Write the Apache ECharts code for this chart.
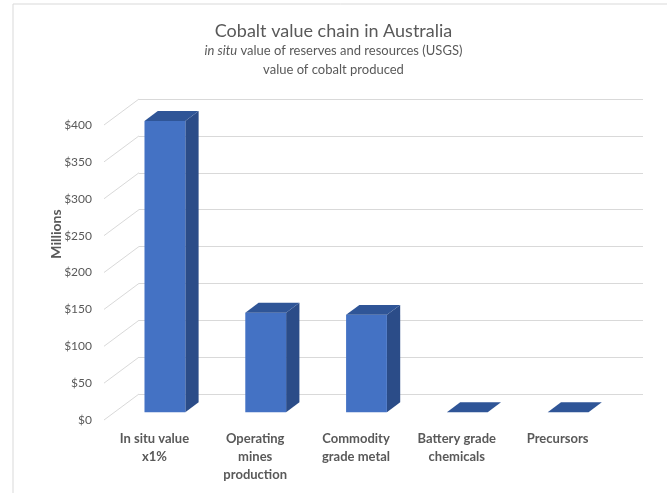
<!DOCTYPE html>
<html>
<head>
<meta charset="utf-8">
<script src="https://cdn.jsdelivr.net/npm/echarts@6/dist/echarts.min.js"></script>
<style>
  html, body { margin: 0; padding: 0; background: #ffffff; }
  #chart { width: 667px; height: 493px; }
</style>
</head>
<body>
<div id="chart"></div>
<script>
// Cobalt value chain in Australia (US$ millions)
const categories = [
  'In situ value\nx1%',
  'Operating\nmines\nproduction',
  'Commodity\ngrade metal',
  'Battery grade\nchemicals',
  'Precursors'
];
const values = [395, 135, 132, 0, 0];
const yTicks = [0, 50, 100, 150, 200, 250, 300, 350, 400];

const TEXT = '#595959';
const GRID_LINE = '#d9d9d9';
const FONT = 'Lato, "Open Sans", sans-serif';

// oblique depth of the floor (front edge -> back wall), in pixels
const DEPTH_X = 35, DEPTH_Y = -26;
// bars sit between these fractions of the floor depth
const BAR_FRONT = 0.30, BAR_BACK = 0.68;
const BAR_WIDTH = 0.405;

const chart = echarts.init(document.getElementById('chart'), null, { renderer: 'canvas' });

const gridFront = { left: 104, top: 125, width: 504, height: 295 };
const gridBack = {
  left: gridFront.left + DEPTH_X,
  top: gridFront.top + DEPTH_Y,
  width: gridFront.width,
  height: gridFront.height
};

// left wall: oblique grid lines running from the value labels back to the wall
function wallDiagonal(params, api) {
  const p = api.coord([0, api.value(1)]);
  const half = api.size([1, 0])[0] / 2;
  const x0 = p[0] - half;
  return {
    type: 'line',
    shape: { x1: x0, y1: p[1], x2: x0 + DEPTH_X, y2: p[1] + DEPTH_Y },
    style: { stroke: GRID_LINE, lineWidth: 1 }
  };
}

// a box-shaped column: front face, right side and top
function bar3d(params, api) {
  const i = api.value(0);
  const v = api.value(1);
  const base = api.coord([i, 0]);
  const top = api.coord([i, v]);
  const w = api.size([1, 0])[0] * BAR_WIDTH;
  const fx = DEPTH_X * BAR_FRONT, fy = DEPTH_Y * BAR_FRONT;
  const dx = DEPTH_X * (BAR_BACK - BAR_FRONT), dy = DEPTH_Y * (BAR_BACK - BAR_FRONT);
  const xl = base[0] - w / 2 + fx;
  const xr = xl + w;
  const yb = base[1] + fy;
  const yt = top[1] + fy;
  const children = [];
  if (yb - yt > 0.5) {
    children.push({
      type: 'polygon',
      shape: { points: [[xr, yt], [xr + dx, yt + dy], [xr + dx, yb + dy], [xr, yb]] },
      style: { fill: '#2B4C88' }
    });
    children.push({
      type: 'rect',
      shape: { x: xl, y: yt, width: w, height: yb - yt },
      style: { fill: '#4472C4' }
    });
  }
  children.push({
    type: 'polygon',
    shape: { points: [[xl, yt], [xr, yt], [xr + dx, yt + dy], [xl + dx, yt + dy]] },
    style: { fill: '#2F5597' }
  });
  return { type: 'group', children: children };
}

chart.setOption({
  backgroundColor: '#ffffff',
  animation: false,
  textStyle: { fontFamily: FONT },
  title: [
    {
      text: 'Cobalt value chain in Australia',
      left: 'center', top: 22, padding: 0,
      textStyle: { fontFamily: FONT, fontSize: 18, fontWeight: 'normal', color: TEXT }
    },
    {
      text: '{i|in situ}{s| value of reserves and resources (USGS)}',
      left: 'center', top: 44, padding: 0,
      textStyle: {
        fontWeight: 'normal',
        rich: {
          i: { fontFamily: FONT, fontSize: 13, fontStyle: 'italic', fontWeight: 'normal', color: TEXT },
          s: { fontFamily: FONT, fontSize: 13, fontWeight: 'normal', color: TEXT }
        }
      }
    },
    {
      text: 'value of cobalt produced',
      left: 'center', top: 63, padding: 0,
      textStyle: { fontFamily: FONT, fontSize: 13, fontWeight: 'normal', color: TEXT }
    }
  ],
  graphic: [
    {
      type: 'rect', silent: true, z: -10,
      shape: { x: 13, y: 4, width: 700, height: 600 },
      style: { fill: 'none', stroke: GRID_LINE, lineWidth: 1 }
    },
    {
      type: 'text', x: 56, y: 234, rotation: Math.PI / 2,
      style: {
        text: 'Millions', fill: TEXT,
        font: 'bold 14px ' + FONT,
        textAlign: 'center', textVerticalAlign: 'middle'
      }
    }
  ],
  grid: [
    Object.assign({ containLabel: false }, gridFront),
    Object.assign({ containLabel: false }, gridBack)
  ],
  xAxis: [
    {
      type: 'category', gridIndex: 0, data: categories,
      axisLine: { show: false }, axisTick: { show: false },
      axisLabel: {
        interval: 0, margin: 10, color: TEXT, fontFamily: FONT,
        fontSize: 13, fontWeight: 'bold', lineHeight: 18
      }
    },
    {
      type: 'category', gridIndex: 1, data: categories,
      axisLine: { show: false }, axisTick: { show: false }, axisLabel: { show: false }
    }
  ],
  yAxis: [
    {
      type: 'value', gridIndex: 0, min: 0, max: 400, interval: 50,
      axisLine: { show: false }, axisTick: { show: false },
      splitLine: { show: false },
      axisLabel: {
        margin: 12, color: TEXT, fontFamily: FONT, fontSize: 12,
        formatter: v => '$' + v
      }
    },
    {
      type: 'value', gridIndex: 1, min: 0, max: 400, interval: 50,
      axisLine: { show: false }, axisTick: { show: false },
      axisLabel: { show: false },
      splitLine: { show: true, lineStyle: { color: GRID_LINE, width: 1 } }
    }
  ],
  series: [
    {
      type: 'custom', xAxisIndex: 0, yAxisIndex: 0, z: 1,
      renderItem: wallDiagonal,
      data: yTicks.map(t => [0, t]),
      silent: true
    },
    {
      type: 'custom', xAxisIndex: 0, yAxisIndex: 0, z: 5,
      renderItem: bar3d,
      data: values.map((v, i) => [i, v]),
      encode: { x: 0, y: 1 }
    }
  ]
});
</script>
</body>
</html>
